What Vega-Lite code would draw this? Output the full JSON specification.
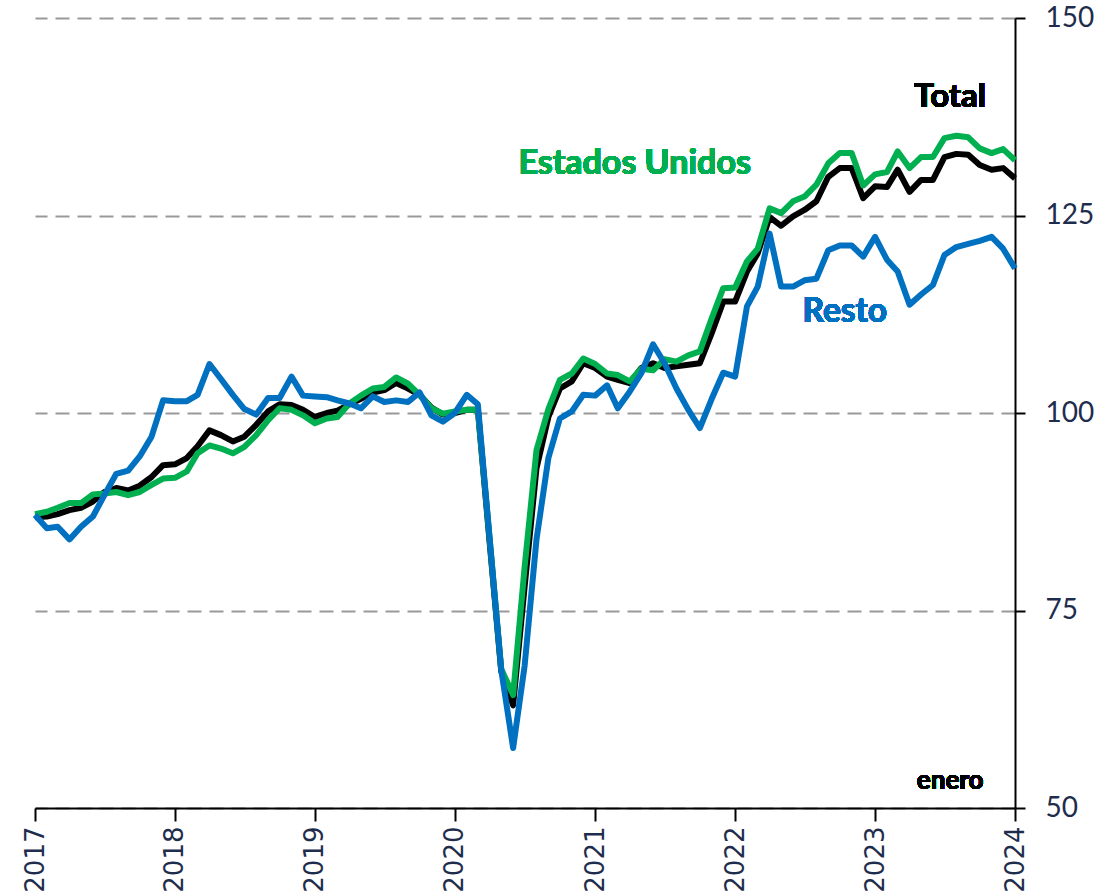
{
  "$schema": "https://vega.github.io/schema/vega-lite/v6.json",
  "autosize": {"type": "none"},
  "padding": {"left": 35, "top": 18, "right": 104, "bottom": 88},
  "width": 980,
  "height": 790,
  "background": "white",
  "config": {
    "view": {"stroke": null},
    "axis": {"title": null}
  },
  "data": {
    "values": [
      {"date": "2017-01-01", "Total": 86.8, "EEUU": 87.2, "Resto": 87.1},
      {"date": "2017-02-01", "Total": 86.9, "EEUU": 87.5, "Resto": 85.4},
      {"date": "2017-03-01", "Total": 87.2, "EEUU": 88.0, "Resto": 85.6},
      {"date": "2017-04-01", "Total": 87.7, "EEUU": 88.6, "Resto": 84.0},
      {"date": "2017-05-01", "Total": 88.0, "EEUU": 88.6, "Resto": 85.6},
      {"date": "2017-06-01", "Total": 88.8, "EEUU": 89.7, "Resto": 86.9},
      {"date": "2017-07-01", "Total": 90.0, "EEUU": 89.8, "Resto": 89.6},
      {"date": "2017-08-01", "Total": 90.5, "EEUU": 90.0, "Resto": 92.3},
      {"date": "2017-09-01", "Total": 90.2, "EEUU": 89.6, "Resto": 92.7},
      {"date": "2017-10-01", "Total": 90.8, "EEUU": 90.0, "Resto": 94.5},
      {"date": "2017-11-01", "Total": 91.9, "EEUU": 90.9, "Resto": 97.0},
      {"date": "2017-12-01", "Total": 93.4, "EEUU": 91.7, "Resto": 101.6},
      {"date": "2018-01-01", "Total": 93.5, "EEUU": 91.8, "Resto": 101.5},
      {"date": "2018-02-01", "Total": 94.3, "EEUU": 92.6, "Resto": 101.5},
      {"date": "2018-03-01", "Total": 95.8, "EEUU": 94.9, "Resto": 102.3},
      {"date": "2018-04-01", "Total": 97.8, "EEUU": 95.9, "Resto": 106.2},
      {"date": "2018-05-01", "Total": 97.2, "EEUU": 95.5, "Resto": 104.3},
      {"date": "2018-06-01", "Total": 96.4, "EEUU": 94.9, "Resto": 102.3},
      {"date": "2018-07-01", "Total": 97.0, "EEUU": 95.7, "Resto": 100.5},
      {"date": "2018-08-01", "Total": 98.5, "EEUU": 97.2, "Resto": 99.8},
      {"date": "2018-09-01", "Total": 100.2, "EEUU": 99.1, "Resto": 101.9},
      {"date": "2018-10-01", "Total": 101.1, "EEUU": 100.6, "Resto": 101.9},
      {"date": "2018-11-01", "Total": 101.0, "EEUU": 100.4, "Resto": 104.6},
      {"date": "2018-12-01", "Total": 100.4, "EEUU": 99.7, "Resto": 102.2},
      {"date": "2019-01-01", "Total": 99.5, "EEUU": 98.7, "Resto": 102.1},
      {"date": "2019-02-01", "Total": 100.0, "EEUU": 99.3, "Resto": 102.0},
      {"date": "2019-03-01", "Total": 100.3, "EEUU": 99.5, "Resto": 101.6},
      {"date": "2019-04-01", "Total": 101.1, "EEUU": 101.2, "Resto": 101.2},
      {"date": "2019-05-01", "Total": 101.8, "EEUU": 102.2, "Resto": 100.6},
      {"date": "2019-06-01", "Total": 102.6, "EEUU": 103.1, "Resto": 102.1},
      {"date": "2019-07-01", "Total": 102.9, "EEUU": 103.3, "Resto": 101.4},
      {"date": "2019-08-01", "Total": 103.8, "EEUU": 104.5, "Resto": 101.6},
      {"date": "2019-09-01", "Total": 103.1, "EEUU": 103.7, "Resto": 101.4},
      {"date": "2019-10-01", "Total": 102.3, "EEUU": 102.3, "Resto": 102.6},
      {"date": "2019-11-01", "Total": 100.7, "EEUU": 100.6, "Resto": 99.7},
      {"date": "2019-12-01", "Total": 99.8, "EEUU": 99.9, "Resto": 98.9},
      {"date": "2020-01-01", "Total": 100.0, "EEUU": 100.2, "Resto": 100.0},
      {"date": "2020-02-01", "Total": 100.4, "EEUU": 100.4, "Resto": 102.3},
      {"date": "2020-03-01", "Total": 100.4, "EEUU": 100.4, "Resto": 101.1},
      {"date": "2020-04-01", "Total": 83.5, "EEUU": 84.0, "Resto": 84.0},
      {"date": "2020-05-01", "Total": 67.3, "EEUU": 67.6, "Resto": 67.5},
      {"date": "2020-06-01", "Total": 63.0, "EEUU": 64.3, "Resto": 57.6},
      {"date": "2020-07-01", "Total": 78.0, "EEUU": 80.5, "Resto": 68.0},
      {"date": "2020-08-01", "Total": 93.0, "EEUU": 95.3, "Resto": 84.0},
      {"date": "2020-09-01", "Total": 99.5, "EEUU": 100.5, "Resto": 94.3},
      {"date": "2020-10-01", "Total": 103.1, "EEUU": 104.2, "Resto": 99.3},
      {"date": "2020-11-01", "Total": 104.0, "EEUU": 105.0, "Resto": 100.2},
      {"date": "2020-12-01", "Total": 106.3, "EEUU": 106.9, "Resto": 102.3},
      {"date": "2021-01-01", "Total": 105.7, "EEUU": 106.2, "Resto": 102.2},
      {"date": "2021-02-01", "Total": 104.6, "EEUU": 105.0, "Resto": 103.5},
      {"date": "2021-03-01", "Total": 104.2, "EEUU": 104.8, "Resto": 100.6},
      {"date": "2021-04-01", "Total": 103.8, "EEUU": 104.0, "Resto": 102.7},
      {"date": "2021-05-01", "Total": 105.7, "EEUU": 105.6, "Resto": 105.0},
      {"date": "2021-06-01", "Total": 106.3, "EEUU": 105.4, "Resto": 108.7},
      {"date": "2021-07-01", "Total": 105.7, "EEUU": 106.8, "Resto": 106.3},
      {"date": "2021-08-01", "Total": 105.9, "EEUU": 106.5, "Resto": 103.1},
      {"date": "2021-09-01", "Total": 106.1, "EEUU": 107.3, "Resto": 100.4},
      {"date": "2021-10-01", "Total": 106.3, "EEUU": 107.8, "Resto": 98.1},
      {"date": "2021-11-01", "Total": 110.1, "EEUU": 112.0, "Resto": 101.8},
      {"date": "2021-12-01", "Total": 114.1, "EEUU": 115.8, "Resto": 105.1},
      {"date": "2022-01-01", "Total": 114.1, "EEUU": 115.9, "Resto": 104.6},
      {"date": "2022-02-01", "Total": 117.9, "EEUU": 119.2, "Resto": 113.5},
      {"date": "2022-03-01", "Total": 120.2, "EEUU": 120.8, "Resto": 116.0},
      {"date": "2022-04-01", "Total": 124.8, "EEUU": 125.9, "Resto": 122.7},
      {"date": "2022-05-01", "Total": 123.7, "EEUU": 125.3, "Resto": 116.0},
      {"date": "2022-06-01", "Total": 124.9, "EEUU": 126.8, "Resto": 116.0},
      {"date": "2022-07-01", "Total": 125.7, "EEUU": 127.4, "Resto": 116.8},
      {"date": "2022-08-01", "Total": 126.8, "EEUU": 128.9, "Resto": 117.0},
      {"date": "2022-09-01", "Total": 129.9, "EEUU": 131.6, "Resto": 120.6},
      {"date": "2022-10-01", "Total": 131.0, "EEUU": 132.9, "Resto": 121.2},
      {"date": "2022-11-01", "Total": 131.0, "EEUU": 132.9, "Resto": 121.2},
      {"date": "2022-12-01", "Total": 127.2, "EEUU": 128.8, "Resto": 119.8},
      {"date": "2023-01-01", "Total": 128.7, "EEUU": 130.2, "Resto": 122.3},
      {"date": "2023-02-01", "Total": 128.6, "EEUU": 130.5, "Resto": 119.4},
      {"date": "2023-03-01", "Total": 130.8, "EEUU": 133.1, "Resto": 117.9},
      {"date": "2023-04-01", "Total": 128.0, "EEUU": 131.0, "Resto": 113.7},
      {"date": "2023-05-01", "Total": 129.5, "EEUU": 132.4, "Resto": 115.0},
      {"date": "2023-06-01", "Total": 129.5, "EEUU": 132.4, "Resto": 116.2},
      {"date": "2023-07-01", "Total": 132.4, "EEUU": 134.8, "Resto": 120.0},
      {"date": "2023-08-01", "Total": 132.8, "EEUU": 135.1, "Resto": 121.0},
      {"date": "2023-09-01", "Total": 132.7, "EEUU": 134.9, "Resto": 121.4},
      {"date": "2023-10-01", "Total": 131.4, "EEUU": 133.5, "Resto": 121.8},
      {"date": "2023-11-01", "Total": 130.8, "EEUU": 132.9, "Resto": 122.3},
      {"date": "2023-12-01", "Total": 131.0, "EEUU": 133.4, "Resto": 120.8},
      {"date": "2024-01-01", "Total": 129.7, "EEUU": 132.0, "Resto": 118.3}
    ]
  },
  "encoding": {
    "x": {
      "field": "date",
      "type": "temporal",
      "timeUnit": "utcyearmonth",
      "scale": {"domain": [{"year": 2017, "month": 1, "date": 1, "utc": true}, {"year": 2024, "month": 1, "date": 1, "utc": true}]},
      "axis": {
        "values": [
          {"year": 2017, "month": 1, "date": 1, "utc": true},
          {"year": 2018, "month": 1, "date": 1, "utc": true},
          {"year": 2019, "month": 1, "date": 1, "utc": true},
          {"year": 2020, "month": 1, "date": 1, "utc": true},
          {"year": 2021, "month": 1, "date": 1, "utc": true},
          {"year": 2022, "month": 1, "date": 1, "utc": true},
          {"year": 2023, "month": 1, "date": 1, "utc": true},
          {"year": 2024, "month": 1, "date": 1, "utc": true}
        ],
        "format": "%Y",
        "labelAngle": -90,
        "labelFont": "DejaVu Sans",
        "labelFontSize": 26,
        "labelColor": "#1f2d4d",
        "labelPadding": 5,
        "labelOverlap": false,
        "labelFlush": false,
        "domainColor": "#000000",
        "domainWidth": 2,
        "tickColor": "#000000",
        "tickWidth": 2,
        "tickSize": 13,
        "grid": false,
        "title": null
      }
    }
  },
  "layer": [
    {
      "mark": {"type": "line", "color": "#000000", "strokeWidth": 6, "strokeJoin": "round"},
      "encoding": {
        "y": {
          "field": "Total",
          "type": "quantitative",
          "scale": {"domain": [50, 150], "zero": false, "nice": false},
          "axis": {
            "orient": "right",
            "values": [50, 75, 100, 125, 150],
            "grid": true,
            "gridDash": [14, 8],
            "gridColor": "#999999",
            "gridWidth": 2,
            "domainColor": "#000000",
            "domainWidth": 2,
            "tickColor": "#000000",
            "tickWidth": 2,
            "tickSize": 10,
            "labelFont": "Lato",
            "labelFontSize": 28,
            "labelColor": "#1f2d4d",
            "labelPadding": 20,
            "title": null
          }
        }
      }
    },
    {
      "mark": {"type": "line", "color": "#00B050", "strokeWidth": 6, "strokeJoin": "round"},
      "encoding": {"y": {"field": "EEUU", "type": "quantitative"}}
    },
    {
      "mark": {"type": "line", "color": "#0070C0", "strokeWidth": 6, "strokeJoin": "round"},
      "encoding": {"y": {"field": "Resto", "type": "quantitative"}}
    },
    {
      "mark": {"type": "text", "text": "Total", "font": "Lato", "fontWeight": "bold", "fontSize": 33, "color": "#000000", "align": "center", "baseline": "middle"},
      "encoding": {
        "x": {"datum": {"year": 2023, "month": 7, "date": 16, "utc": true}, "type": "temporal"},
        "y": {"datum": 140.0, "type": "quantitative"}
      }
    },
    {
      "mark": {"type": "text", "text": "Estados Unidos", "font": "Lato", "fontWeight": "bold", "fontSize": 34, "color": "#00B050", "align": "center", "baseline": "middle"},
      "encoding": {
        "x": {"datum": {"year": 2021, "month": 4, "date": 14, "utc": true}, "type": "temporal"},
        "y": {"datum": 131.5, "type": "quantitative"}
      }
    },
    {
      "mark": {"type": "text", "text": "Resto", "font": "Lato", "fontWeight": "bold", "fontSize": 33.5, "color": "#0070C0", "align": "center", "baseline": "middle"},
      "encoding": {
        "x": {"datum": {"year": 2022, "month": 10, "date": 14, "utc": true}, "type": "temporal"},
        "y": {"datum": 112.8, "type": "quantitative"}
      }
    },
    {
      "mark": {"type": "text", "text": "enero", "font": "Lato", "fontWeight": "bold", "fontSize": 26, "color": "#000000", "align": "center", "baseline": "middle"},
      "encoding": {
        "x": {"datum": {"year": 2023, "month": 7, "date": 16, "utc": true}, "type": "temporal"},
        "y": {"datum": 53.4, "type": "quantitative"}
      }
    }
  ]
}
